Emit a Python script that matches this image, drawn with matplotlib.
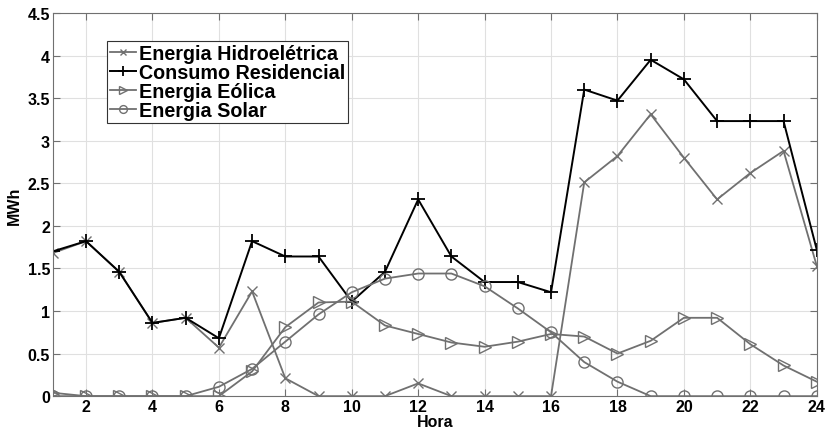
import numpy as np
import matplotlib
matplotlib.use("Agg")
import matplotlib.pyplot as plt

plt.rcParams["font.family"] = ["Liberation Sans", "DejaVu Sans"]
plt.rcParams["font.weight"] = "bold"

hours = np.arange(1, 25)

hidro = [1.68, 1.82, 1.46, 0.86, 0.92, 0.57, 1.23, 0.21, 0.0, 0.0, 0.0, 0.15,
         0.0, 0.0, 0.0, 0.0, 2.51, 2.82, 3.31, 2.80, 2.31, 2.62, 2.88, 1.53]
consumo = [1.70, 1.82, 1.46, 0.86, 0.92, 0.68, 1.82, 1.64, 1.64, 1.11, 1.46, 2.31,
           1.64, 1.34, 1.34, 1.22, 3.60, 3.47, 3.95, 3.72, 3.23, 3.23, 3.23, 1.72]
eolica = [0.04, 0.0, 0.0, 0.0, 0.0, 0.0, 0.29, 0.81, 1.10, 1.11, 0.83, 0.73,
          0.63, 0.58, 0.64, 0.73, 0.70, 0.50, 0.65, 0.92, 0.92, 0.61, 0.36, 0.17]
solar = [0.0, 0.0, 0.0, 0.0, 0.0, 0.11, 0.32, 0.64, 0.96, 1.22, 1.38, 1.44,
         1.44, 1.29, 1.03, 0.75, 0.40, 0.17, 0.0, 0.0, 0.0, 0.0, 0.0, 0.0]

GRAY = "#707070"

fig = plt.figure(figsize=(8.25, 4.35), dpi=100)
ax = fig.add_axes([0.064, 0.087, 0.926, 0.881])

ax.plot(hours, hidro, color=GRAY, marker="x", markersize=7, lw=1.3,
        label="Energia Hidroelétrica")
ax.plot(hours, consumo, color="black", marker="+", markersize=10, mew=1.3, lw=1.4,
        label="Consumo Residencial")
ax.plot(hours, eolica, color=GRAY, marker=">", markersize=8, mfc="none", lw=1.3,
        label="Energia Eólica")
ax.plot(hours, solar, color=GRAY, marker="o", markersize=8, mfc="none", lw=1.3,
        label="Energia Solar")

ax.set_xlim(1, 24)
ax.set_ylim(0, 4.5)
ax.set_xticks(np.arange(2, 25, 2))
ax.set_yticks(np.arange(0, 4.6, 0.5))
ax.set_yticklabels(["0", "0.5", "1", "1.5", "2", "2.5", "3", "3.5", "4", "4.5"])
ax.tick_params(direction="in", length=5, labelsize=11.5, right=True, top=True,
               color=GRAY, pad=2)
for lbl in ax.get_xticklabels() + ax.get_yticklabels():
    lbl.set_fontweight("bold")
ax.grid(color="#e0e0e0", lw=0.8)
for sp in ax.spines.values():
    sp.set_color(GRAY)

ax.set_xlabel("Hora", fontsize=11.5, fontweight="bold", labelpad=0)
ax.set_ylabel("MWh", fontsize=11.5, fontweight="bold", labelpad=4)

leg = ax.legend(loc="upper left", bbox_to_anchor=(0.058, 0.952),
                handlelength=1.3, handletextpad=0.15, borderpad=0.15,
                labelspacing=0.0, fancybox=False, framealpha=1, markerscale=0.7,
                edgecolor="#333333", prop={"weight": "bold", "size": 14.2})
leg.get_frame().set_linewidth(0.8)

fig.savefig("out.png", dpi=100)
